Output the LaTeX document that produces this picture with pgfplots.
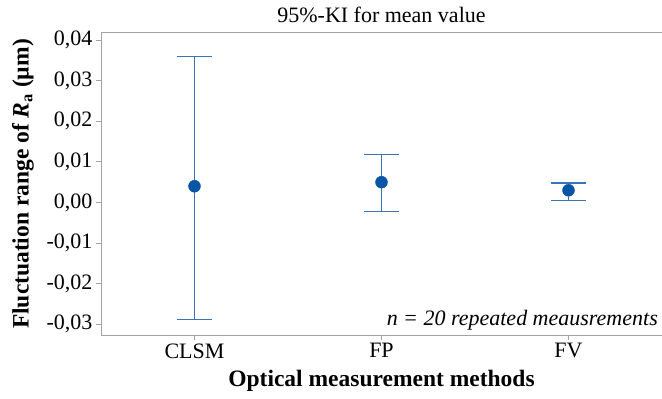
\documentclass[border=0pt]{standalone}
\usepackage{fontspec}
\setmainfont{Liberation Serif}
\usepackage{pgfplots}
\pgfplotsset{compat=1.18}

\definecolor{barblue}{HTML}{3A74B7}
\definecolor{dotblue}{HTML}{0755A5}
\definecolor{framegray}{HTML}{A3A3A3}

\begin{document}
\begin{tikzpicture}
\begin{axis}[
  name=ax,
  scale only axis,
  width=561bp, height=302bp,
  xmin=-0.5, xmax=2.5,
  ymin=-0.0327, ymax=0.0418,
  clip=false,
  axis line style={draw=none},
  xtick={0,1,2},
  xticklabels={CLSM,FP,FV},
  ytick={-0.03,-0.02,-0.01,0,0.01,0.02,0.03,0.04},
  xtick pos=bottom, ytick pos=left,
  tick align=outside,
  major tick length=5bp,
  tick style={framegray, line width=0.9pt},
  scaled y ticks=false,
  yticklabel style={/pgf/number format/.cd, fixed, fixed zerofill, precision=2, use comma, assume math mode=true},
  tick label style={font=\fontsize{22bp}{26bp}\selectfont, black},
  title={95\%-KI for mean value},
  title style={at={(axis description cs:0.5,1)}, anchor=south, yshift=1bp,
    font=\fontsize{22bp}{26bp}\selectfont},
  xlabel={Optical measurement methods},
  xlabel style={at={(axis description cs:0.5,-0.153)}, anchor=center,
    font=\bfseries\fontsize{23.5bp}{28bp}\selectfont},
  ylabel={Fluctuation range of \textit{R}\textsubscript{a} (µm)},
  ylabel style={at={(axis description cs:-0.139,0.5)}, anchor=center,
    font=\bfseries\fontsize{23.5bp}{28bp}\selectfont},
]
% frame: left, bottom and top sides
\draw[framegray, line width=1pt] (rel axis cs:0,1) -- (rel axis cs:0,0) -- (rel axis cs:1,0);
\draw[framegray, line width=1pt] (rel axis cs:0,1) -- (rel axis cs:1,1);

% mean values with 95% confidence intervals
\addplot[only marks, mark=*, mark size=6bp,
  mark options={draw=dotblue, fill=dotblue},
  error bars/.cd, y dir=both, y explicit,
  error bar style={barblue, line width=1.5pt},
  error mark options={barblue, line width=1.5pt, mark size=17.5bp, rotate=90}]
coordinates {
  (0,0.0040) += (0,0.0320) -= (0,0.0329)
  (1,0.0050) += (0,0.0068) -= (0,0.0072)
  (2,0.0030) += (0,0.0018) -= (0,0.0025)
};

\node[anchor=south east, inner sep=0pt,
  font=\itshape\fontsize{22bp}{26bp}\selectfont]
  at (rel axis cs:1,0) [xshift=-4bp, yshift=5bp] {n = 20 repeated meausrements};
\end{axis}
\pgfresetboundingbox
\useasboundingbox ([xshift=-101bp, yshift=-64bp]ax.south west) rectangle ([yshift=33bp]ax.north east);
\end{tikzpicture}
\end{document}
